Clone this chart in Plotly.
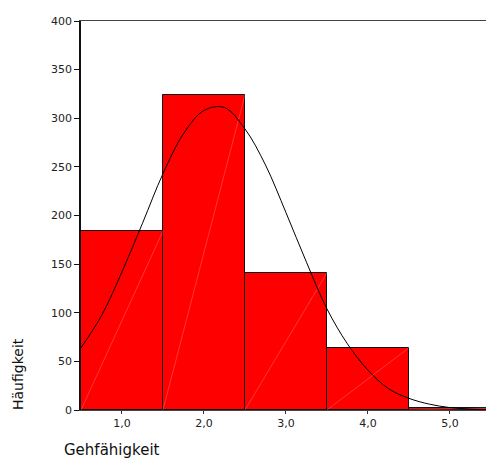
import plotly.graph_objects as go

# Histogram data
bin_centers = [1, 2, 3, 4, 5]
counts = [184, 324, 141, 64, 2]
bin_width = 1.0

# Normal curve
curve_x = [0.5, 0.75, 1.0, 1.25, 1.5, 1.75, 2.0, 2.25, 2.5, 2.75, 3.0, 3.25, 3.5,
           3.75, 4.0, 4.25, 4.5, 4.75, 5.0, 5.25, 5.45]
curve_y = [64, 97, 142, 192, 243, 284, 308, 311, 289, 252, 203, 152, 104,
           68, 41, 22, 12, 6, 2.5, 1.0, 0.5]

x_tickvals = [1, 2, 3, 4, 5]
x_ticktext = ["1,0", "2,0", "3,0", "4,0", "5,0"]
y_tickvals = [0, 50, 100, 150, 200, 250, 300, 350, 400]

fig = go.Figure()
fig.add_trace(go.Bar(
    x=bin_centers, y=counts, width=bin_width,
    marker=dict(color="#FF0000", line=dict(color="#111111", width=1)),
    showlegend=False, hoverinfo="skip"))

# faint diagonal lines inside each bar (bottom-left to top-right)
dx, dy = [], []
for c, h in zip(bin_centers, counts):
    dx += [c - bin_width / 2, c + bin_width / 2, None]
    dy += [0, h, None]
fig.add_trace(go.Scatter(x=dx, y=dy, mode="lines",
                         line=dict(color="rgba(255,255,255,0.3)", width=0.7),
                         showlegend=False, hoverinfo="skip"))

fig.add_trace(go.Scatter(x=curve_x, y=curve_y, mode="lines",
                         line=dict(color="black", width=1, shape="spline"),
                         showlegend=False, hoverinfo="skip"))

W, H, L, R, T, B = 486, 460, 81, 0, 21, 50
pw, ph = W - L - R, H - T - B

fig.update_layout(
    width=W, height=H,
    margin=dict(l=L, r=R, t=T, b=B),
    plot_bgcolor="white", paper_bgcolor="white",
    font=dict(family="DejaVu Sans, Arial, sans-serif", size=11, color="#222222"),
    bargap=0,
    xaxis=dict(range=[0.5, 5.44], tickvals=x_tickvals, ticktext=x_ticktext,
               showgrid=False, zeroline=False, showline=True, linecolor="#444444",
               linewidth=1, mirror=True, ticks="outside", ticklen=3,
               tickcolor="#333333", tickfont=dict(size=11)),
    yaxis=dict(range=[0, 400], tickvals=y_tickvals, showgrid=False, zeroline=False,
               showline=True, linecolor="#111111", linewidth=1.6, ticks="outside",
               ticklen=5, tickcolor="#111111", tickfont=dict(size=11)),
    annotations=[
        dict(text="Häufigkeit", x=(18 - L) / pw, y=(H - B - 374) / ph,
             xref="paper", yref="paper", xanchor="center", yanchor="middle",
             showarrow=False, textangle=-90, font=dict(size=14, color="#111111")),
        dict(text="Gehfähigkeit", x=(62 - L) / pw, y=(H - B - 450) / ph,
             xref="paper", yref="paper", xanchor="left", yanchor="middle",
             showarrow=False, font=dict(size=15, color="#111111")),
    ],
)

fig.write_html("out.html")
